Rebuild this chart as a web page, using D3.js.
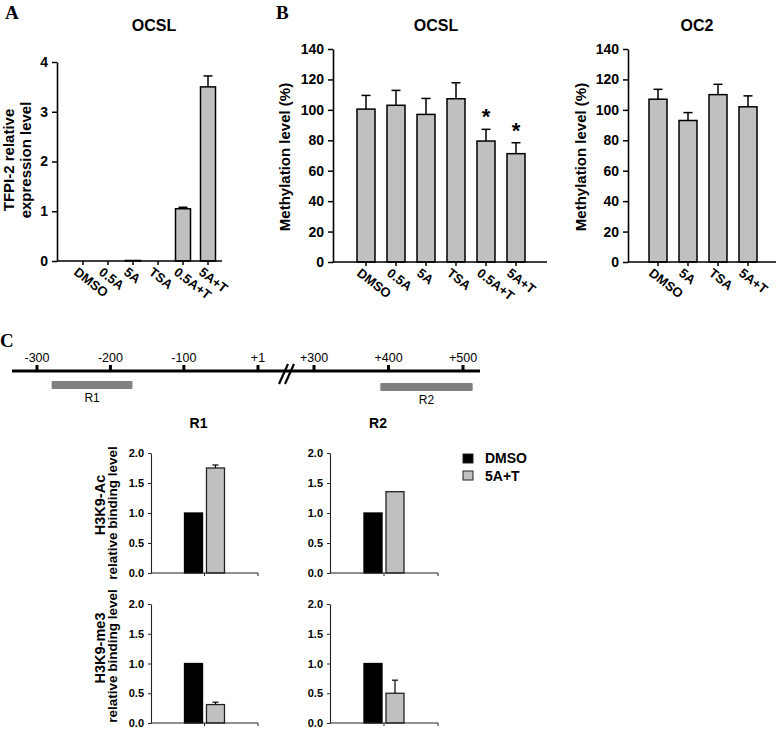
<!DOCTYPE html>
<html><head><meta charset="utf-8">
<script src="https://cdn.jsdelivr.net/npm/d3@7"></script>
<style>body{margin:0;background:#fff} svg{display:block}</style>
</head><body><svg id="c" width="777" height="729" font-family="'Liberation Sans',Arial,sans-serif"></svg>
<script>
// ---------- DATA ----------
const aCats = ["DMSO", "0.5A", "5A", "TSA", "0.5A+T", "5A+T"];
const aVals = [0, 0, 0.01, 0, 1.05, 3.5];
const aErr = [0, 0, 0, 0, 0.03, 0.22];
const aTicks = [0, 1, 2, 3, 4];

const bCats = ["DMSO", "0.5A", "5A", "TSA", "0.5A+T", "5A+T"];
const bVals = [100.5, 103, 97, 107.3, 79.5, 71.2];
const bErr = [9, 9.8, 10.5, 10.5, 7.7, 7.2];
const bSig = [false, false, false, false, true, true];

const oc2Cats = ["DMSO", "5A", "TSA", "5A+T"];
const oc2Vals = [107, 93, 110, 102];
const oc2Err = [6.5, 5.2, 6.8, 7.2];
const bTicks = [0, 20, 40, 60, 80, 100, 120, 140];

const mapLeftTicks = [-300, -200, -100, 1];
const mapRightTicks = [300, 400, 500];
const regionNames = ["R1", "R2"];
const regionStart = [-280, 389];
const regionEnd = [-170, 513];

const chipSeries = ["DMSO", "5A+T"];
const chipRegions = ["R1", "R2"];
const acVals = [[1.0, 1.75], [1.0, 1.355]];
const acErr = [[0, 0.05], [0, 0]];
const me3Vals = [[1.0, 0.31], [1.0, 0.5]];
const me3Err = [[0, 0.04], [0, 0.22]];
const chipTicks = [0, 0.5, 1.0, 1.5, 2.0];

// ---------- DRAW ----------
const svg = d3.select("#c");
const GRAY = "#c0c0c0";
const SANS = "'Liberation Sans',Arial,sans-serif";

function panelLetter(t, x, y) {
  svg.append("text").attr("x", x).attr("y", y).text(t)
    .style("font-family", "'Liberation Serif','Times New Roman',serif")
    .style("font-weight", "bold").style("font-size", "19px");
}

function barPanel(o) {
  const g = svg.append("g");
  const y = d3.scaleLinear().domain(o.yDomain).range(o.yRange);
  const x = d3.scaleBand().domain(o.cats).range(o.xRange).paddingInner(0.4).paddingOuter(0.2);
  const y0 = y(0);
  g.selectAll("rect.bar").data(o.vals).join("rect")
    .attr("x", (d, i) => x(o.cats[i])).attr("width", x.bandwidth())
    .attr("y", d => y(d)).attr("height", d => y0 - y(d))
    .attr("fill", GRAY).attr("stroke", "#000").attr("stroke-width", 1.5);
  const cw = 4.5;
  o.vals.forEach((v, i) => {
    if (!o.errs[i]) return;
    const cx = x(o.cats[i]) + x.bandwidth() / 2;
    g.append("line").attr("x1", cx).attr("x2", cx).attr("y1", y(v)).attr("y2", y(v + o.errs[i]))
      .attr("stroke", "#000").attr("stroke-width", 1.5);
    g.append("line").attr("x1", cx - cw).attr("x2", cx + cw).attr("y1", y(v + o.errs[i])).attr("y2", y(v + o.errs[i]))
      .attr("stroke", "#000").attr("stroke-width", 1.5);
    if (o.sig && o.sig[i]) {
      g.append("text").attr("x", cx).attr("y", y(v + o.errs[i]) - 5).attr("text-anchor", "middle")
        .attr("font-size", 22).attr("font-weight", "bold").text("*");
    }
  });
  const ya = g.append("g").attr("transform", `translate(${o.axisX0},0)`)
    .call(d3.axisLeft(y).tickValues(o.ticks).tickSize(5).tickSizeOuter(0).tickPadding(4).tickFormat(d3.format("d")));
  ya.select(".domain").attr("stroke-width", 1.6);
  ya.selectAll(".tick line").attr("stroke-width", 1.5);
  ya.selectAll("text").attr("font-size", 14).attr("font-weight", "bold").attr("font-family", SANS);
  g.append("line").attr("x1", o.axisX0).attr("x2", o.axisX1).attr("y1", y0).attr("y2", y0)
    .attr("stroke", "#000").attr("stroke-width", 1.6);
  o.cats.forEach(c => {
    const cx = x(c) + x.bandwidth() / 2;
    g.append("line").attr("x1", cx).attr("x2", cx).attr("y1", y0).attr("y2", y0 + 4)
      .attr("stroke", "#000").attr("stroke-width", 1.5);
    g.append("text").attr("transform", `translate(${cx - 4},${y0 + 5}) rotate(38)`)
      .attr("dy", "0.75em").attr("font-size", 13).attr("font-weight", "bold").text(c);
  });
  g.append("text").attr("x", o.titleX).attr("y", 31).attr("text-anchor", "middle")
    .attr("font-size", 16).attr("font-weight", "bold").text(o.title);
  o.ylabel.forEach((t, i) => {
    g.append("text").attr("transform", `translate(${o.ylabelX[i]},${o.ylabelY}) rotate(-90)`)
      .attr("text-anchor", "middle").attr("font-size", 15).attr("font-weight", "bold").text(t);
  });
}

panelLetter("A", 5, 19);
barPanel({cats: aCats, vals: aVals, errs: aErr, yDomain: [0, 4], yRange: [261, 62], ticks: aTicks,
  xRange: [70.5, 220.5], axisX0: 57, axisX1: 222, title: "OCSL", titleX: 154,
  ylabel: ["TFPI-2 relative", "expression level"], ylabelX: [14, 31], ylabelY: 160});

panelLetter("B", 276, 19);
barPanel({cats: bCats, vals: bVals, errs: bErr, sig: bSig, yDomain: [0, 140], yRange: [262, 49], ticks: bTicks,
  xRange: [351, 531], axisX0: 333, axisX1: 547, title: "OCSL", titleX: 436,
  ylabel: ["Methylation level (%)"], ylabelX: [290], ylabelY: 157});

barPanel({cats: oc2Cats, vals: oc2Vals, errs: oc2Err, yDomain: [0, 140], yRange: [262, 49], ticks: bTicks,
  xRange: [643, 763], axisX0: 628, axisX1: 776, title: "OC2", titleX: 697,
  ylabel: ["Methylation level (%)"], ylabelX: [586], ylabelY: 157});

// ---------- Panel C map ----------
panelLetter("C", 0, 347);
const mapY = 371;
const xl = d3.scaleLinear().domain([-300, 1]).range([37, 258]);
const xr = d3.scaleLinear().domain([300, 500]).range([314, 463]);
const mg = svg.append("g");
mg.append("line").attr("x1", 12).attr("x2", 480).attr("y1", mapY).attr("y2", mapY)
  .attr("stroke", "#000").attr("stroke-width", 3);
const fmtPos = d => d > 0 ? "+" + d : String(d);
[[mapLeftTicks, xl], [mapRightTicks, xr]].forEach(([ticks, sc]) => {
  ticks.forEach(t => {
    mg.append("rect").attr("x", sc(t) - 1.5).attr("width", 3).attr("y", mapY - 6).attr("height", 6).attr("fill", "#000");
    mg.append("text").attr("x", sc(t)).attr("y", mapY - 9).attr("text-anchor", "middle")
      .attr("font-size", 12.5).text(fmtPos(t));
  });
});
[[279, 288], [285, 294]].forEach(([a, b]) => {
  mg.append("line").attr("x1", a).attr("y1", mapY + 13).attr("x2", b).attr("y2", mapY - 7)
    .attr("stroke", "#000").attr("stroke-width", 2.2);
});
regionNames.forEach((r, i) => {
  const sc = i === 0 ? xl : xr;
  const yy = i === 0 ? 381 : 383;
  mg.append("rect").attr("x", sc(regionStart[i])).attr("width", sc(regionEnd[i]) - sc(regionStart[i]))
    .attr("y", yy).attr("height", 8).attr("fill", "#808080").attr("rx", 1);
  mg.append("text").attr("x", (sc(regionStart[i]) + sc(regionEnd[i])) / 2).attr("y", yy + 21)
    .attr("text-anchor", "middle").attr("font-size", 12).text(r);
});

// ---------- Panel C ChIP charts ----------
function chipPanel(vals, errs, x0, x1, yTop, yBot, showTitle, title) {
  const g = svg.append("g");
  const y = d3.scaleLinear().domain([0, 2]).range([yBot, yTop]);
  const xs = d3.scaleLinear().domain([0, 2]).range([x0, x1]);
  const xb = d3.scaleBand().domain(chipSeries).range([xs(1) - 20, xs(1) + 20]).paddingInner(0.18);
  chipSeries.forEach((s, i) => {
    g.append("rect").attr("x", xb(s)).attr("width", xb.bandwidth())
      .attr("y", y(vals[i])).attr("height", y(0) - y(vals[i]))
      .attr("fill", i === 0 ? "#000" : GRAY).attr("stroke", i === 0 ? "#000" : "#222").attr("stroke-width", 1.3);
    if (errs[i]) {
      const cx = xb(s) + xb.bandwidth() / 2;
      g.append("line").attr("x1", cx).attr("x2", cx).attr("y1", y(vals[i])).attr("y2", y(vals[i] + errs[i])).attr("stroke", "#000").attr("stroke-width", 1.2);
      g.append("line").attr("x1", cx - 3).attr("x2", cx + 3).attr("y1", y(vals[i] + errs[i])).attr("y2", y(vals[i] + errs[i])).attr("stroke", "#000").attr("stroke-width", 1.2);
    }
  });
  const ya = g.append("g").attr("transform", `translate(${x0},0)`)
    .call(d3.axisLeft(y).tickValues(chipTicks).tickSize(3).tickSizeOuter(0).tickPadding(4).tickFormat(d3.format(".1f")));
  ya.select(".domain").attr("stroke", "#222").attr("stroke-width", 1.1);
  ya.selectAll(".tick line").attr("stroke", "#222");
  ya.selectAll("text").attr("font-size", 11).attr("font-weight", "bold").attr("font-family", SANS);
  g.append("line").attr("x1", x0).attr("x2", x1).attr("y1", y(0)).attr("y2", y(0)).attr("stroke", "#222").attr("stroke-width", 1.1);
  [1, 2].forEach(t => g.append("line").attr("x1", xs(t)).attr("x2", xs(t)).attr("y1", y(0)).attr("y2", y(0) + 3).attr("stroke", "#222"));
  if (showTitle) g.append("text").attr("x", xs(1) - 6).attr("y", 428).attr("text-anchor", "middle")
    .attr("font-size", 14).attr("font-weight", "bold").text(title);
}
chipPanel(acVals[0], acErr[0], 151, 258, 453, 573, true, chipRegions[0]);
chipPanel(acVals[1], acErr[1], 330, 438, 453, 573, true, chipRegions[1]);
chipPanel(me3Vals[0], me3Err[0], 151, 258, 604, 723, false, "");
chipPanel(me3Vals[1], me3Err[1], 330, 438, 604, 723, false, "");

[["H3K9-Ac", 505], ["H3K9-me3", 648]].forEach(([t, cy]) => {
  svg.append("text").attr("transform", `translate(105,${cy}) rotate(-90)`).attr("text-anchor", "middle")
    .attr("font-size", 14.5).attr("font-weight", "bold").text(t);
  svg.append("text").attr("transform", `translate(117,${cy + 8}) rotate(-90)`).attr("text-anchor", "middle")
    .attr("font-size", 13.5).attr("font-weight", "bold").text("relative binding level");
});

chipSeries.forEach((s, i) => {
  svg.append("rect").attr("x", 463).attr("y", 454 + i * 17).attr("width", 10).attr("height", 9)
    .attr("fill", i === 0 ? "#000" : GRAY).attr("stroke", "#222").attr("stroke-width", 1);
  svg.append("text").attr("x", 485).attr("y", 463 + i * 18).attr("font-size", 14).attr("font-weight", "bold").text(s);
});
</script>
</body></html>
